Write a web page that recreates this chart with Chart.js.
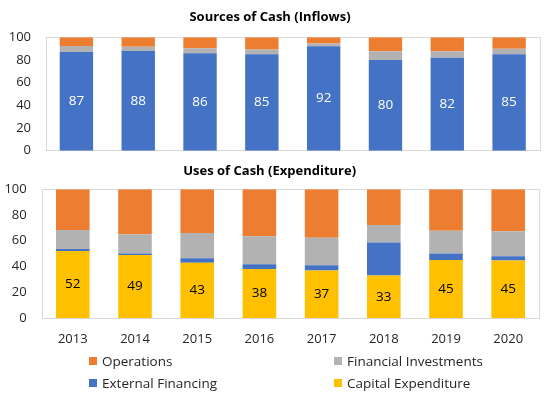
<!DOCTYPE html>
<html><head><meta charset="utf-8">
<script src="https://cdn.jsdelivr.net/npm/chart.js@4/dist/chart.umd.min.js"></script>
<style>
html,body{margin:0;padding:0;width:550px;height:393px;overflow:hidden;background:#fff;font-family:"Open Sans",sans-serif}
#topc{position:absolute;left:0;top:0}
#botc{position:absolute;left:0;top:160px}
#legend{position:absolute;left:89px;top:353px;display:grid;grid-template-columns:245px auto;row-gap:6px;font-size:13.5px;color:#262626;line-height:16px;white-space:nowrap}
#legend span{display:flex;align-items:center}
#legend i{display:inline-block;width:8px;height:8px;margin-right:5px}
</style></head>
<body>
<canvas id="topc" width="578" height="173"></canvas>
<canvas id="botc" width="565" height="190"></canvas>
<div id="legend"></div>
<script>
// ---- data ----
const years = ["2013","2014","2015","2016","2017","2018","2019","2020"];
const yTicks = [0, 20, 40, 60, 80, 100];

// Sources of Cash (Inflows), % shares
const srcExternal  = [87, 88, 86, 85, 92, 80, 82, 85];
const srcFinancial = [5.3, 3.6, 4.4, 4.2, 2.5, 7.8, 5.8, 5.0];
const srcOperations= [7.7, 8.4, 9.6, 10.8, 5.5, 12.2, 12.2, 10.0];

// Uses of Cash (Expenditure), % shares
const useCapex     = [52, 49, 43, 38, 37, 33, 45, 44.6];
const useExternal  = [1.6, 1.2, 3.5, 3.8, 4.0, 25.7, 5.1, 3.3];
const useFinancial = [14.8, 14.8, 19.5, 21.8, 21.3, 13.5, 17.7, 19.6];
const useOperations= [31.6, 35.0, 34.0, 36.4, 37.7, 27.8, 32.2, 32.5];

const legendOrder = ["Operations", "Financial Investments", "External Financing", "Capital Expenditure"];

// ---- style ----
const COLORS = {
  "Operations": "#ED7D31",
  "Financial Investments": "#B2B2B2",
  "External Financing": "#4472C4",
  "Capital Expenditure": "#FFC000"
};
const FONT = "'Open Sans', sans-serif";
const TICK_COLOR = "#262626";

const framePlugin = {
  id: 'frame',
  beforeDatasetsDraw(chart) {
    const a = chart.chartArea, ctx = chart.ctx;
    ctx.save();
    ctx.strokeStyle = '#D9D9D9';
    ctx.lineWidth = 1;
    ctx.strokeRect(Math.round(a.left) + 0.5, Math.round(a.top) + 0.5,
                   Math.round(a.right - a.left) - 1, Math.round(a.bottom - a.top));
    ctx.restore();
  }
};

const valueLabels = {
  id: 'valueLabels',
  afterDatasetsDraw(chart, args, opts) {
    const ctx = chart.ctx;
    const meta = chart.getDatasetMeta(opts.datasetIndex);
    const data = chart.data.datasets[opts.datasetIndex].data;
    ctx.save();
    ctx.font = "13.5px " + FONT;
    ctx.fillStyle = opts.color;
    ctx.textAlign = 'center';
    ctx.textBaseline = 'middle';
    meta.data.forEach((el, i) => {
      const p = el.getProps(['x', 'y', 'base'], true);
      ctx.fillText(String(Math.round(data[i])), p.x, (p.y + p.base) / 2);
    });
    ctx.restore();
  }
};

function ds(label, data) {
  return {
    label, data,
    backgroundColor: COLORS[label],
    borderWidth: 0,
    barPercentage: 0.54,
    categoryPercentage: 1.0
  };
}

function makeOptions(cfg) {
  return {
    responsive: false,
    animation: false,
    devicePixelRatio: 1,
    layout: { padding: { left: 0, right: cfg.padRight, top: 0, bottom: cfg.padBottom } },
    plugins: {
      legend: { display: false },
      tooltip: { enabled: false },
      title: {
        display: true,
        text: cfg.title,
        color: '#000',
        font: { family: FONT, size: 13, weight: 'bold' },
        padding: cfg.titlePad
      },
      valueLabels: { datasetIndex: 0, color: cfg.labelColor }
    },
    scales: {
      x: {
        display: cfg.showX,
        stacked: true,
        grid: { display: false, drawTicks: false },
        border: { display: false },
        ticks: { display: cfg.showX, color: TICK_COLOR, font: { family: FONT, size: 13 }, padding: 13 },
        afterFit: s => { s.height = cfg.xHeight; }
      },
      y: {
        stacked: true,
        min: 0, max: 100,
        afterBuildTicks: s => { s.ticks = yTicks.map(v => ({ value: v })); },
        grid: { display: false, drawTicks: false },
        border: { display: false },
        ticks: { color: TICK_COLOR, font: { family: FONT, size: 13 }, padding: cfg.yPad },
        afterFit: s => { s.width = cfg.yWidth; }
      }
    }
  };
}

new Chart(document.getElementById('topc'), {
  type: 'bar',
  data: {
    labels: years,
    datasets: [
      ds("External Financing", srcExternal),
      ds("Financial Investments", srcFinancial),
      ds("Operations", srcOperations)
    ]
  },
  options: makeOptions({
    title: "Sources of Cash (Inflows)",
    titlePad: { top: 9, bottom: 12.7 },
    padRight: 38, padBottom: 0,
    showX: false, xHeight: 0,
    yWidth: 45.5, yPad: 14.5,
    labelColor: '#FFFFFF'
  }),
  plugins: [framePlugin, valueLabels]
});

const botChart = new Chart(document.getElementById('botc'), {
  type: 'bar',
  data: {
    labels: years,
    datasets: [
      ds("Capital Expenditure", useCapex),
      ds("External Financing", useExternal),
      ds("Financial Investments", useFinancial),
      ds("Operations", useOperations)
    ]
  },
  options: makeOptions({
    title: "Uses of Cash (Expenditure)",
    titlePad: { top: 3.2, bottom: 10.5 },
    padRight: 25.7, padBottom: 0,
    showX: true, xHeight: 32,
    yWidth: 41.7, yPad: 15,
    labelColor: '#000000'
  }),
  plugins: [framePlugin, valueLabels]
});

// legend built from the chart's datasets
const legendEl = document.getElementById('legend');
legendOrder.forEach(name => {
  const d = botChart.data.datasets.find(x => x.label === name);
  const span = document.createElement('span');
  const box = document.createElement('i');
  box.style.background = d.backgroundColor;
  span.appendChild(box);
  span.appendChild(document.createTextNode(d.label));
  legendEl.appendChild(span);
});
</script>
</body></html>
